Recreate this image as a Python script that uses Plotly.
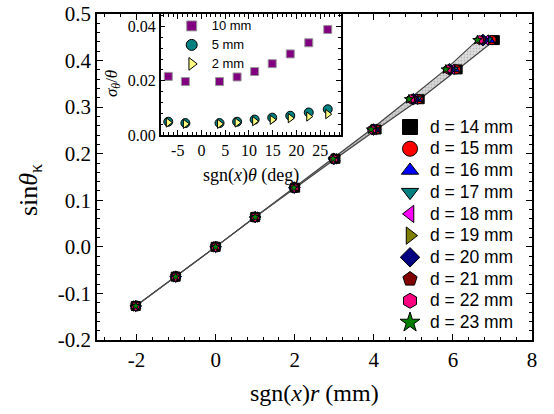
import plotly.graph_objects as go

# ---------------- data ----------------
sin_theta = [-0.127, -0.064, 0.0, 0.064, 0.127, 0.189, 0.252, 0.317, 0.381, 0.444]

x_d14 = [-2.02, -1.01, 0.0, 1.0, 2.01, 3.03, 4.07, 5.16, 6.12, 7.06]
x_d15 = [-2.02, -1.01, 0.0, 1.0, 2.01, 3.02, 4.06, 5.13, 6.08, 6.98]
x_d16 = [-2.02, -1.01, 0.0, 1.0, 2.00, 3.02, 4.04, 5.10, 6.04, 6.93]
x_d17 = [-2.02, -1.01, 0.0, 1.0, 2.00, 3.01, 4.03, 5.08, 6.01, 6.88]
x_d18 = [-2.02, -1.01, 0.0, 1.0, 2.00, 3.00, 4.01, 5.05, 5.98, 6.84]
x_d19 = [-2.02, -1.01, 0.0, 1.0, 2.00, 3.00, 4.00, 5.02, 5.95, 6.80]
x_d20 = [-2.02, -1.01, 0.0, 1.0, 1.99, 2.99, 3.99, 5.00, 5.92, 6.76]
x_d21 = [-2.02, -1.01, 0.0, 1.0, 1.99, 2.99, 3.97, 4.97, 5.89, 6.72]
x_d22 = [-2.02, -1.01, 0.0, 1.0, 1.99, 2.98, 3.95, 4.93, 5.86, 6.67]
x_d23 = [-2.02, -1.01, 0.0, 1.0, 1.98, 2.97, 3.93, 4.89, 5.82, 6.62]

series_labels = ["d = 14 mm", "d = 15 mm", "d = 16 mm", "d = 17 mm", "d = 18 mm",
                 "d = 19 mm", "d = 20 mm", "d = 21 mm", "d = 22 mm", "d = 23 mm"]
series_x = [x_d14, x_d15, x_d16, x_d17, x_d18, x_d19, x_d20, x_d21, x_d22, x_d23]
series_symbols = ["square", "circle", "triangle-up", "triangle-down", "triangle-left",
                  "triangle-right", "diamond", "pentagon", "hexagon", "star"]
series_colors = ["#000000", "#ff0000", "#0000ff", "#008080", "#ff00ff",
                 "#808000", "#000080", "#800000", "#ff0080", "#008000"]

# inset data
inset_theta = [-7.0, -3.4, 3.8, 7.5, 11.2, 14.9, 18.7, 22.6, 26.6]
sigma_10mm = [0.0216, 0.0197, 0.0197, 0.0214, 0.0234, 0.0263, 0.0299, 0.0340, 0.0389]
sigma_5mm = [0.0049, 0.0044, 0.0044, 0.0049, 0.0057, 0.0064, 0.0071, 0.0083, 0.0095]
sigma_2mm = [0.0046, 0.0041, 0.0041, 0.0046, 0.0051, 0.0056, 0.0062, 0.0068, 0.0077]
inset_labels = ["10 mm", "5 mm", "2 mm"]

main_xticks = [-2, 0, 2, 4, 6, 8]
main_xticktext = ["-2", "0", "2", "4", "6", "8"]
main_yticks = [-0.2, -0.1, 0.0, 0.1, 0.2, 0.3, 0.4, 0.5]
main_yticktext = ["-0.2", "-0.1", "0.0", "0.1", "0.2", "0.3", "0.4", "0.5"]
inset_xticks = [-5, 0, 5, 10, 15, 20, 25]
inset_xticktext = ["-5", "0", "5", "10", "15", "20", "25"]
inset_yticks = [0.0, 0.02, 0.04]
inset_yticktext = ["0.00", "0.02", "0.04"]

SERIF = "Liberation Serif"
SANS = "Liberation Sans"

fig = go.Figure()

# band between the outermost series
fig.add_trace(go.Scatter(x=x_d14, y=sin_theta, mode="lines",
                         line=dict(color="#404040", width=1.2), showlegend=False,
                         hoverinfo="skip"))
fig.add_trace(go.Scatter(x=x_d23, y=sin_theta, mode="lines", fill="tonexty",
                         fillcolor="#eeeeee",
                         fillpattern=dict(shape=".", fgcolor="#999999", bgcolor="#f2f2f2",
                                          size=3, solidity=0.3),
                         line=dict(color="#404040", width=1.2), showlegend=False,
                         hoverinfo="skip"))
for xs in series_x[1:-1]:
    fig.add_trace(go.Scatter(x=xs, y=sin_theta, mode="lines",
                             line=dict(color="rgba(90,90,90,0.2)", width=0.8),
                             showlegend=False, hoverinfo="skip"))

# markers
for lab, xs, sym, col in zip(series_labels, series_x, series_symbols, series_colors):
    fig.add_trace(go.Scatter(x=xs, y=sin_theta, mode="markers", name=lab,
                             marker=dict(symbol=sym, size=(7 if sym == "star" else 9), color=col,
                                         line=dict(color="black", width=1)),
                             showlegend=False))
# legend entries (larger symbols)
for lab, sym, col in zip(series_labels, series_symbols, series_colors):
    fig.add_trace(go.Scatter(x=[None], y=[None], mode="markers",
                             name="<span style='font-size:17.5px'>" + lab + "</span>",
                             marker=dict(symbol=sym, size=15, color=col,
                                         line=dict(color="black", width=1)),
                             showlegend=True, legend="legend"))

# inset
fig.add_trace(go.Scatter(x=inset_theta, y=sigma_10mm, mode="markers", xaxis="x2", yaxis="y2",
                         marker=dict(symbol="square", size=8, color="#800080",
                                     line=dict(color="#999999", width=1)),
                         showlegend=False))
fig.add_trace(go.Scatter(x=inset_theta, y=sigma_5mm, mode="markers", xaxis="x2", yaxis="y2",
                         marker=dict(symbol="circle", size=9, color="#008080",
                                     line=dict(color="black", width=1)),
                         showlegend=False))
fig.add_trace(go.Scatter(x=inset_theta, y=sigma_2mm, mode="markers", xaxis="x2", yaxis="y2",
                         marker=dict(symbol="triangle-right", size=8, color="#ffff80",
                                     line=dict(color="black", width=1)),
                         showlegend=False))
for lab, sym, col, lc, sz in zip(inset_labels, ["square", "circle", "triangle-right"],
                                 ["#800080", "#008080", "#ffff80"],
                                 ["#999999", "black", "black"], [10, 11, 11]):
    fig.add_trace(go.Scatter(x=[None], y=[None], mode="markers",
                             name="<span style='font-size:13px'>" + lab + "</span>",
                             xaxis="x2", yaxis="y2",
                             marker=dict(symbol=sym, size=sz, color=col, line=dict(color=lc, width=1)),
                             showlegend=True, legend="legend2"))

axis_common = dict(showline=True, linecolor="black", linewidth=1.5, mirror="ticks",
                   ticks="inside", tickcolor="black", showgrid=False, zeroline=False)

fig.update_layout(
    width=554, height=414,
    margin=dict(l=97, r=22, t=14, b=74, autoexpand=False),
    paper_bgcolor="white", plot_bgcolor="white",
    xaxis=dict(domain=[0, 1], range=[-3, 8], tickvals=main_xticks, ticktext=main_xticktext,
               ticklen=6, tickwidth=1.2,
               minor=dict(dtick=0.4, tick0=0, ticks="inside", ticklen=3.5, tickcolor="black", tickwidth=1),
               tickfont=dict(family=SERIF, size=21, color="black"), **axis_common),
    yaxis=dict(domain=[0, 1], range=[-0.2, 0.5], tickvals=main_yticks, ticktext=main_yticktext,
               ticklen=6, tickwidth=1.2,
               minor=dict(dtick=0.02, tick0=0, ticks="inside", ticklen=3.5, tickcolor="black", tickwidth=1),
               tickfont=dict(family=SERIF, size=21, color="black"), **axis_common),
    xaxis2=dict(domain=[0.1464, 0.561], anchor="y2", range=[-8.6, 29.4],
                tickvals=inset_xticks, ticktext=inset_xticktext, ticklen=5, tickwidth=1,
                minor=dict(dtick=1, tick0=0, ticks="inside", ticklen=3, tickcolor="black", tickwidth=1),
                tickfont=dict(family=SERIF, size=16, color="black"), **axis_common),
    yaxis2=dict(domain=[0.6288, 1.0], anchor="x2", range=[0, 0.0446],
                tickvals=inset_yticks, ticktext=inset_yticktext, ticklen=5, tickwidth=1,
                minor=dict(dtick=0.004, tick0=0, ticks="inside", ticklen=3, tickcolor="black", tickwidth=1),
                tickfont=dict(family=SERIF, size=16, color="black"), **axis_common),
    legend=dict(x=0.6736, y=0.702, xanchor="left", yanchor="top", bgcolor="rgba(0,0,0,0)",
                font=dict(family=SANS, size=14.4, color="black"), itemsizing="trace",
                tracegroupgap=0, traceorder="normal"),
    legend2=dict(x=0.1717, y=1.008, xanchor="left", yanchor="top", bgcolor="rgba(0,0,0,0)",
                 font=dict(family=SANS, size=10.5, color="black"), itemsizing="trace",
                 tracegroupgap=0, traceorder="normal"),
    annotations=[
        dict(text="sgn(<i>x</i>)<i>r</i> (mm)", xref="paper", yref="paper", x=0.5, y=-0.1626,
             xanchor="center", yanchor="middle", showarrow=False,
             font=dict(family=SERIF, size=24, color="black")),
        dict(text="sin<i>θ</i><sub>κ</sub>", xref="paper", yref="paper", x=-0.154, y=0.46,
             xanchor="center", yanchor="middle", showarrow=False, textangle=-90,
             font=dict(family=SERIF, size=26, color="black")),
        dict(text="<i>σ</i><sub><i>θ</i></sub>/<i>θ</i>", xref="paper", yref="paper", x=0.0368, y=0.785,
             xanchor="center", yanchor="middle", showarrow=False, textangle=-90,
             font=dict(family=SERIF, size=17, color="black")),
        dict(text="sgn(<i>x</i>)<i>θ</i> (deg)", xref="paper", yref="paper", x=0.354, y=0.506,
             xanchor="center", yanchor="middle", showarrow=False,
             font=dict(family=SERIF, size=18, color="black")),
    ],
)

fig.write_html("out.html")
